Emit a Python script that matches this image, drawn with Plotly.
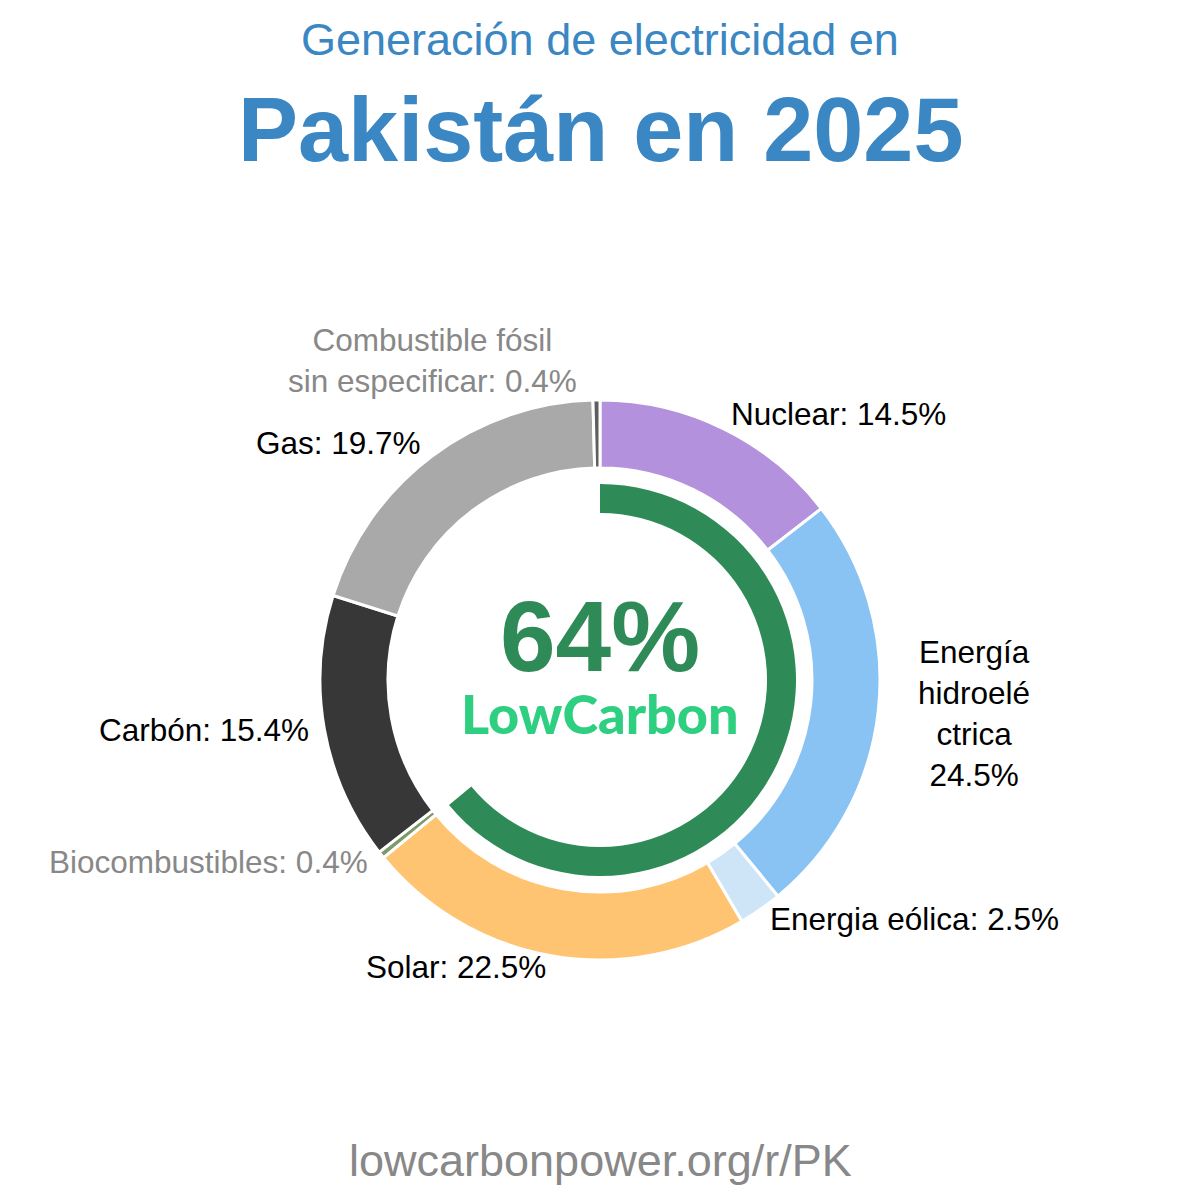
import math
import plotly.graph_objects as go

# ---- data ----
labels = ["Nuclear", "Energía hidroeléctrica", "Energia eólica", "Solar",
          "Biocombustibles", "Carbón", "Gas", "Combustible fósil sin especificar"]
label_text = ["Nuclear: 14.5%", "Energía<br>hidroelé<br>ctrica<br>24.5%", "Energia eólica: 2.5%",
              "Solar: 22.5%", "Biocombustibles: 0.4%", "Carbón: 15.4%", "Gas: 19.7%",
              "Combustible fósil<br>sin especificar: 0.4%"]
shares = [14.5, 24.5, 2.5, 22.5, 0.4, 15.4, 19.7, 0.4]
colors = ["#b391dc", "#89c3f3", "#cde5f7", "#ffc472", "#7d9a6b", "#373737", "#a9a9a9", "#5e5e5e"]
label_colors = ["#000", "#000", "#000", "#000", "#888", "#000", "#000", "#888"]
low_carbon_pct = 64

W = H = 1200
cx, cy = 600, 680
R_out, R_in = 280, 212
G_out, G_in = 196, 167


def dom(r):
    return dict(x=[(cx - r) / W, (cx + r) / W],
                y=[1 - (cy + r) / H, 1 - (cy - r) / H])


fig = go.Figure()
fig.add_trace(go.Pie(values=shares, labels=labels, marker=dict(colors=colors, line=dict(color="white", width=3)),
                     hole=R_in / R_out, sort=False, direction="clockwise", rotation=0,
                     textinfo="none", hoverinfo="label+percent", domain=dom(R_out), showlegend=False))
fig.add_trace(go.Pie(values=[low_carbon_pct, 100 - low_carbon_pct], labels=["Low carbon", "Other"],
                     marker=dict(colors=["#2e8b57", "rgba(0,0,0,0)"], line=dict(width=0)),
                     hole=G_in / G_out, sort=False, direction="clockwise", rotation=0,
                     textinfo="none", hoverinfo="skip", domain=dom(G_out), showlegend=False))

ann = []
total = sum(shares)
cum = 0
for i, v in enumerate(shares):
    mid = (cum + v / 2) / total * 2 * math.pi
    cum += v
    r = 294 + (24 if "<br>ctrica" in label_text[i] else 0)
    px = cx + r * math.sin(mid)
    py = cy - r * math.cos(mid)
    xanchor = "left" if math.sin(mid) > 0 else "right"
    xshift, yshift = 0, 2
    if math.cos(mid) > 0.98:
        xshift, yshift = -17, 26
    ann.append(dict(x=px / W, y=1 - py / H, xref="paper", yref="paper", text=label_text[i],
                    showarrow=False, xanchor=xanchor, yanchor="middle", align="center",
                    xshift=xshift, yshift=yshift,
                    font=dict(family="Liberation Sans, Arial", size=31.5, color=label_colors[i])))

ann += [
    dict(x=0.5, y=1 - 40 / H, xref="paper", yref="paper", text="Generación de electricidad en", showarrow=False,
         font=dict(family="Liberation Sans, Arial", size=45, color="#3a87c4"), yanchor="middle"),
    dict(x=0.5, y=1 - 130 / H, xref="paper", yref="paper", text="<b>Pakistán en 2025</b>", showarrow=False,
         font=dict(family="Liberation Sans, Arial", size=90, color="#3a87c4"), yanchor="middle"),
    dict(x=0.5, y=1 - 1160 / H, xref="paper", yref="paper", text="lowcarbonpower.org/r/PK", showarrow=False,
         font=dict(family="Liberation Sans, Arial", size=45, color="#888888"), yanchor="middle"),
    dict(x=0.5, y=1 - 636 / H, xref="paper", yref="paper", text=f"<b>{low_carbon_pct}%</b>", showarrow=False,
         font=dict(family="Liberation Sans, Arial", size=100, color="#2e8b57"), yanchor="middle"),
    dict(x=0.5, y=1 - 713 / H, xref="paper", yref="paper", text="<b>LowCarbon</b>", showarrow=False,
         font=dict(family="Lato Black, Lato", size=54, color="#2ecf80", weight=900), yanchor="middle"),
]

fig.update_layout(width=W, height=H, margin=dict(l=0, r=0, t=0, b=0), paper_bgcolor="white",
                  plot_bgcolor="white", annotations=ann)
fig.write_html("out.html")
